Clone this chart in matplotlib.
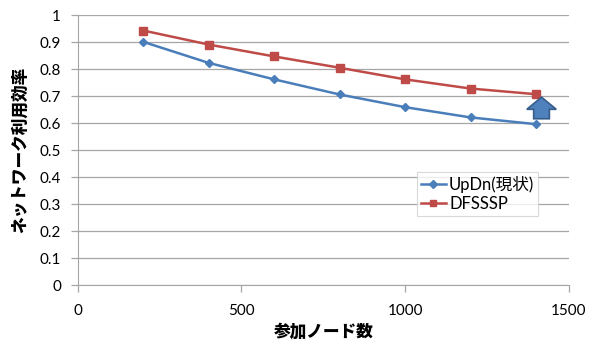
import matplotlib
matplotlib.use("Agg")
import matplotlib.pyplot as plt
from matplotlib.patches import Polygon

plt.rcParams['font.family'] = ['Lato', 'Noto Sans CJK JP', 'DejaVu Sans']

nodes = [200, 400, 600, 800, 1000, 1200, 1400]
updn = [0.901, 0.823, 0.762, 0.706, 0.659, 0.621, 0.596]
dfsssp = [0.943, 0.891, 0.847, 0.805, 0.762, 0.728, 0.707]
series_names = ['UpDn(現状)', 'DFSSSP']
x_ticks = [0, 500, 1000, 1500]
y_ticks = [0, 0.1, 0.2, 0.3, 0.4, 0.5, 0.6, 0.7, 0.8, 0.9, 1]
x_label = '参加ノード数'
y_label = 'ネットワーク利用効率'

blue = '#4A7EBB'
red = '#BE4B48'
grid_c = '#A6A6A6'

fig = plt.figure(figsize=(5.98, 3.44), dpi=100)
ax = fig.add_axes([0.130, 0.1715, 0.821, 0.7845])

ax.plot(nodes, updn, color=blue, lw=1.8, marker='D', ms=4.5, label=series_names[0], zorder=3)
ax.plot(nodes, dfsssp, color=red, lw=1.8, marker='s', ms=5.5, label=series_names[1], zorder=3)

ax.set_xlim(0, 1500)
ax.set_ylim(0, 1)
ax.set_xticks(x_ticks)
ax.set_yticks(y_ticks)
ax.set_yticklabels(['0', '0.1', '0.2', '0.3', '0.4', '0.5', '0.6', '0.7', '0.8', '0.9', '1'])
ax.yaxis.grid(True, color=grid_c, lw=0.9)
ax.set_axisbelow(True)
for s in ['top', 'right']:
    ax.spines[s].set_visible(False)
for s in ['left', 'bottom']:
    ax.spines[s].set_color(grid_c)
ax.tick_params(axis='both', colors=grid_c, labelcolor='#000000', labelsize=11, length=5, width=0.9)
ax.tick_params(axis='x', pad=9)
ax.tick_params(axis='y', pad=7)

ax.set_xlabel(x_label, fontsize=12, fontweight='heavy', family=['Noto Sans CJK JP'], labelpad=3)
ax.set_ylabel(y_label, fontsize=12, fontweight='heavy', family=['Noto Sans CJK JP'], labelpad=8)

# upward arrow marking the improvement at the last point
cx = nodes[-1] + 17
base, tip = updn[-1] + 0.02, dfsssp[-1] - 0.011
neck = tip - 0.045
hw, sw = 45, 24
arrow = Polygon([(cx - sw, base), (cx + sw, base), (cx + sw, neck), (cx + hw, neck),
                 (cx, tip), (cx - hw, neck), (cx - sw, neck)], closed=True,
                facecolor='#4F81BD', edgecolor='#385D8A', lw=1.2, zorder=4, clip_on=False)
ax.add_patch(arrow)

leg = ax.legend(loc='upper left', bbox_to_anchor=(0.69, 0.42), fontsize=12, frameon=True,
                fancybox=False, edgecolor='#D0D0D0', handlelength=1.5, handletextpad=0.2,
                borderpad=0.25, labelspacing=0.2, borderaxespad=0, markerscale=0.85)
leg.get_frame().set_linewidth(0.8)

fig.savefig('out.png', dpi=100)
